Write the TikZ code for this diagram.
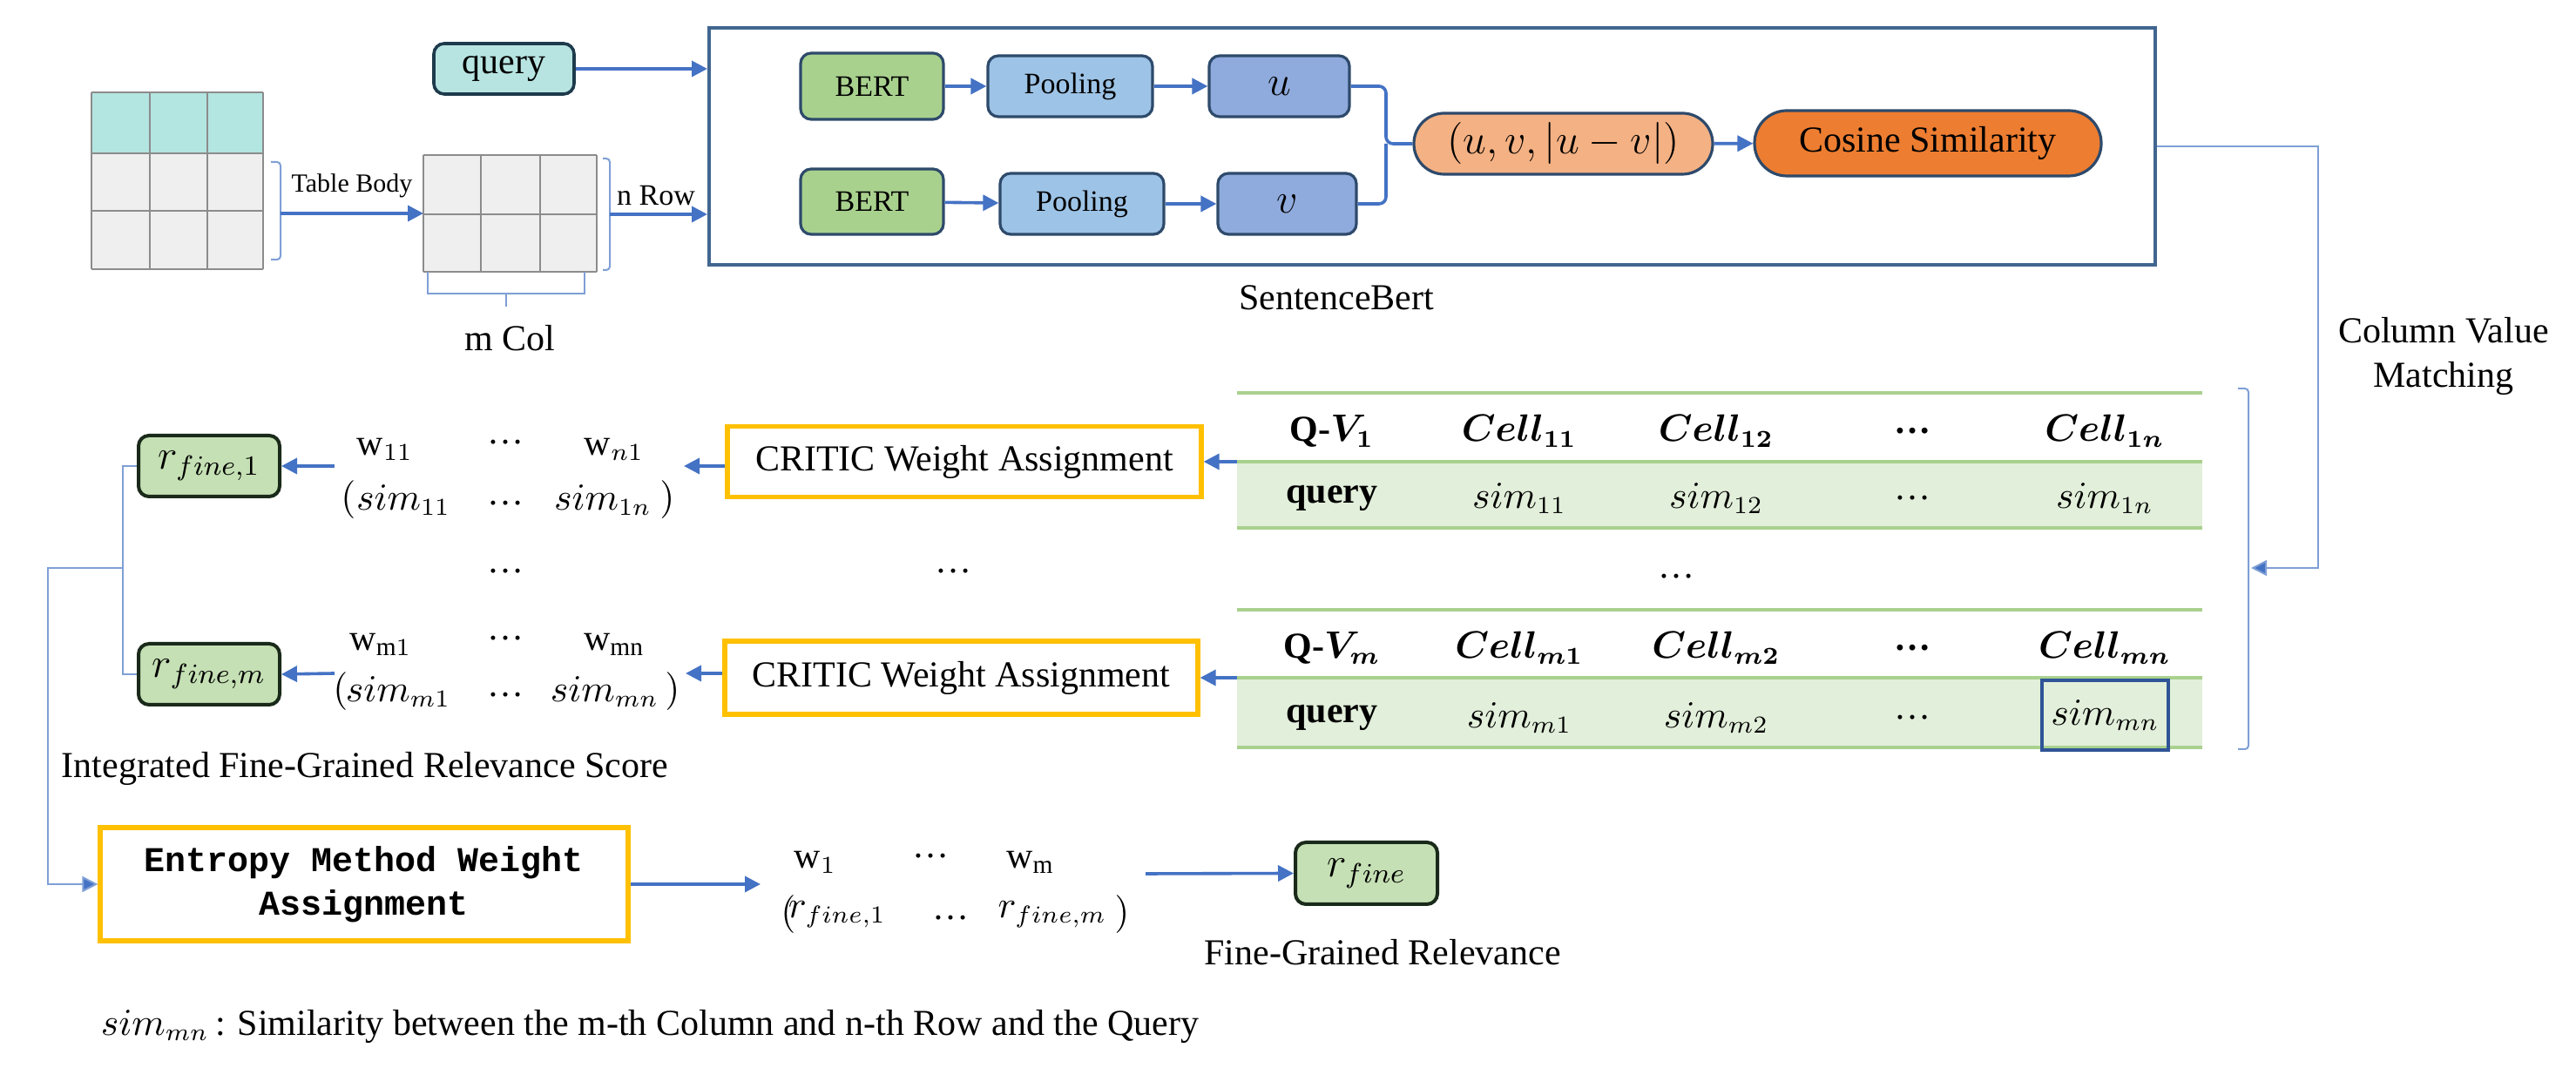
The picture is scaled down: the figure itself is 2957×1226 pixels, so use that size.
\documentclass[tikz,border=0pt]{standalone}
\usepackage{fontspec}
\setmainfont{Liberation Serif}
\newfontfamily\monofnt{Liberation Mono}
\usepackage{bm}
\usetikzlibrary{arrows.meta}
\definecolor{qfill}{HTML}{B7E4E1}
\definecolor{qborder}{HTML}{1E3A4C}
\definecolor{hdr}{HTML}{B3E5E1}
\definecolor{cellg}{HTML}{EFEFEF}
\definecolor{gridc}{HTML}{8C8C8C}
\definecolor{bertg}{HTML}{A9D18E}
\definecolor{poolb}{HTML}{9DC3E6}
\definecolor{uvb}{HTML}{8FAADC}
\definecolor{boxb}{HTML}{2E4A6B}
\definecolor{pilla}{HTML}{F4B183}
\definecolor{pillb}{HTML}{ED7D31}
\definecolor{sbblue}{HTML}{41658F}
\definecolor{arrblue}{HTML}{4472C4}
\definecolor{thinblue}{HTML}{7F9FD6}
\definecolor{gold}{HTML}{FFC000}
\definecolor{rgreen}{HTML}{C5E0B4}
\definecolor{rborder}{HTML}{1A2A1A}
\definecolor{tgreen}{HTML}{A9D18E}
\definecolor{tfill}{HTML}{E2EFDA}
\definecolor{simblue}{HTML}{2F5597}
\begin{document}
\begin{tikzpicture}[x=0.25pt,y=-0.25pt,
  font=\fontsize{10.5}{12.6}\selectfont,
  arr/.style={draw=arrblue, line width=0.9pt, -{Triangle[length=4.5pt,width=4.5pt]}},
  thinln/.style={draw=thinblue, line width=0.5pt},
  thinarr/.style={draw=thinblue, line width=0.5pt, -{Triangle[length=4.5pt,width=4.5pt,fill=arrblue]}},
  rbox/.style={draw=boxb, rounded corners=3pt, line width=0.8pt, inner sep=0pt, minimum height=17.5pt},
  goldbox/.style={draw=gold, line width=1.3pt, fill=white, inner sep=0pt},
  rfbox/.style={draw=rborder, fill=rgreen, rounded corners=3pt, line width=1pt, inner sep=0pt, minimum width=40.5pt, minimum height=17.5pt, font=\fontsize{12}{14}\selectfont},
  tline/.style={draw=tgreen, line width=1.2pt},
  txt/.style={inner sep=0pt}
]
\useasboundingbox (0,0) rectangle (2957,1226);

% ---------- left table ----------
\fill[hdr] (105,106) rectangle (302,176);
\fill[cellg] (105,176) rectangle (302,309);
\foreach \x in {105,172,238,302} \draw[gridc, line width=0.4pt] (\x,106) -- (\x,309);
\foreach \y in {106,176,242,309} \draw[gridc, line width=0.4pt] (105,\y) -- (302,\y);
\draw[thinln, rounded corners=1pt] (311,186) -- (322,186) -- (322,298) -- (311,298);
\coordinate (tb1) at (322,245);
\node[txt] (tbody) at (404,213) {\fontsize{7.5}{9}\selectfont Table Body};

% ---------- second table ----------
\fill[cellg] (486,178) rectangle (685,312);
\foreach \x in {486,552,620,685} \draw[gridc, line width=0.4pt] (\x,178) -- (\x,312);
\foreach \y in {178,246,312} \draw[gridc, line width=0.4pt] (486,\y) -- (685,\y);
\coordinate (t2w) at (486,245);
\draw[arr] (tb1) -- (t2w);
\draw[thinln, rounded corners=1pt] (692,182) -- (700,182) -- (700,310) -- (692,310);
\coordinate (b2) at (700,246);
\node[txt] (nrow) at (753,225) {\fontsize{8.5}{10}\selectfont n Row};
\draw[thinln] (491,312) -- (491,337) -- (671,337) -- (671,312);
\draw[thinln] (581,337) -- (581,352);
\node[txt] (mcol) at (585,388) {m Col};

% ---------- query ----------
\node[draw=qborder, fill=qfill, rounded corners=3pt, line width=0.9pt, minimum width=40.25pt, minimum height=14.5pt, inner sep=0pt] (query) at (578.5,79) {query};

% ---------- SentenceBert ----------
\node[draw=sbblue, line width=1pt, minimum width=415pt, minimum height=68pt, inner sep=0pt] (sb) at (1644,168) {};
\draw[arr] (query.east) -- (query.east -| sb.west);
\draw[arr] (b2) -- (b2 -| sb.west);

\node[rbox, fill=bertg, minimum width=41pt, minimum height=19pt, font=\fontsize{8.5}{10}\selectfont] (bert1) at (1001,99) {BERT};
\node[rbox, fill=poolb, minimum width=47.25pt, font=\fontsize{8.5}{10}\selectfont] (pool1) at (1228.5,99) {Pooling};
\node[rbox, fill=uvb, minimum width=40.25pt, font=\fontsize{13}{15}\selectfont] (u) at (1468.5,99) {$u$};
\node[rbox, fill=bertg, minimum width=41pt, minimum height=18.75pt, font=\fontsize{8.5}{10}\selectfont] (bert2) at (1001,231.5) {BERT};
\node[rbox, fill=poolb, minimum width=47pt, font=\fontsize{8.5}{10}\selectfont] (pool2) at (1242,234) {Pooling};
\node[rbox, fill=uvb, minimum width=39.75pt, font=\fontsize{13}{15}\selectfont] (v) at (1477.5,234) {$v$};
\draw[arr] (bert1) -- (pool1);
\draw[arr] (pool1) -- (u);
\draw[arr] (bert2) -- (pool2);
\draw[arr] (pool2) -- (v);

\node[draw=boxb, fill=pilla, rounded corners=8.7pt, line width=0.8pt, minimum width=85.75pt, minimum height=17.5pt, inner sep=0pt, font=\fontsize{12}{14}\selectfont] (cat) at (1794.5,165) {$(u,v,|u-v|)$};
\node[draw=boxb, fill=pillb, rounded corners=9.3pt, line width=0.8pt, minimum width=99.5pt, minimum height=18.75pt, inner sep=0pt] (cos) at (2213,164.5) {Cosine Similarity};
\draw[draw=arrblue, line width=0.9pt, rounded corners=2pt] (u.east) -- (1591,99) -- (1591,165) -- (cat.west);
\draw[draw=arrblue, line width=0.9pt, rounded corners=2pt] (v.east) -- (1591,234) -- (1591,165);
\draw[arr] (cat) -- (cos);
\node[txt] (sblabel) at (1534,342) {SentenceBert};

% ---------- column value matching ----------
\coordinate (rb) at (2584,652);
\draw[thinarr] (sb.east) -- (2661,168) -- (2661,652) -- (rb);
\node[txt, align=center] (cvm) at (2805,409) {Column Value\\Matching};
\draw[thinln, rounded corners=1pt] (2569,446) -- (2581,446) -- (2581,860) -- (2569,860);

% ---------- similarity tables ----------
\fill[tfill] (1420,530) rectangle (2528,606);
\draw[tline] (1420,451) -- (2528,451);
\draw[tline] (1420,530) -- (2528,530);
\draw[tline] (1420,606) -- (2528,606);
\node[txt] (qv1) at (1529,495) {\textbf{Q-}$\bm{V_1}$};
\node[txt] (c11) at (1744,495) {$\bm{Cell_{11}}$};
\node[txt] (c12) at (1970,495) {$\bm{Cell_{12}}$};
\node[txt] (cd1) at (2195,495) {\textbf{\ldots}};
\node[txt] (c1n) at (2416,495) {$\bm{Cell_{1n}}$};
\node[txt] (q1) at (1529,572) {\textbf{query}};
\node[txt] (s11t) at (1744,572) {$sim_{11}$};
\node[txt] (s12t) at (1970,572) {$sim_{12}$};
\node[txt] (sd1) at (2195,572) {\ldots};
\node[txt] (s1nt) at (2416,572) {$sim_{1n}$};

\node[txt] (tdots) at (1924,662) {\ldots};

\fill[tfill] (1420,778) rectangle (2528,858);
\draw[tline] (1420,700) -- (2528,700);
\draw[tline] (1420,778) -- (2528,778);
\draw[tline] (1420,858) -- (2528,858);
\node[txt] (qvm) at (1529,744) {\textbf{Q-}$\bm{V_m}$};
\node[txt] (cm1) at (1744,744) {$\bm{Cell_{m1}}$};
\node[txt] (cm2) at (1970,744) {$\bm{Cell_{m2}}$};
\node[txt] (cdm) at (2195,744) {\textbf{\ldots}};
\node[txt] (cmn) at (2416,744) {$\bm{Cell_{mn}}$};
\node[txt] (qm) at (1529,824) {\textbf{query}};
\node[txt] (sm1t) at (1744,824) {$sim_{m1}$};
\node[txt] (sm2t) at (1970,824) {$sim_{m2}$};
\node[txt] (sdm) at (2195,824) {\ldots};
\node[draw=simblue, line width=0.9pt, minimum width=36.25pt, minimum height=20pt, inner sep=0pt] (smn) at (2416.5,821) {$sim_{mn}$};

\coordinate (t1w) at (1420,530);
\coordinate (t2wl) at (1420,778);

% ---------- CRITIC ----------
\node[goldbox, minimum width=136pt, minimum height=20.25pt] (cr1) at (1107,530) {CRITIC Weight Assignment};
\node[goldbox, minimum width=135.75pt, minimum height=21pt] (cr2) at (1103.5,778) {CRITIC Weight Assignment};
\draw[arr] (t1w) -- (cr1.east);
\draw[arr] (t2wl) -- (cr2.east);

% weights row 1
\node[txt] (w11) at (442,516) {w$_{11}$};
\node[txt] (wd1) at (580,508) {\ldots};
\node[txt] (wn1) at (705,516) {w$_{n1}$};
\node[txt] (pl1) at (400,574) {$($};
\node[txt] (ss11) at (463,574) {$sim_{11}$};
\node[txt] (sdd1) at (580,578) {\ldots};
\node[txt] (ss1n) at (692,574) {$sim_{1n}$};
\node[txt] (pr1) at (766,574) {$)$};
\coordinate (w1e) at (785,535);
\coordinate (w1w) at (384,535);
\draw[arr] (cr1.west |- w1e) -- (w1e);

% weights row m
\node[txt] (wm1) at (437,740) {w$_{\mathrm{m}1}$};
\node[txt] (wdm) at (580,733) {\ldots};
\node[txt] (wmn) at (705,740) {w$_{\mathrm{mn}}$};
\node[txt] (plm) at (391,794) {$($};
\node[txt] (ssm1) at (457,794) {$sim_{m1}$};
\node[txt] (sddm) at (580,798) {\ldots};
\node[txt] (ssmn) at (694,794) {$sim_{mn}$};
\node[txt] (prm) at (772,794) {$)$};
\coordinate (wme) at (787,773);
\coordinate (wmw) at (384,773);
\draw[arr] (cr2.west |- wme) -- (wme);

\node[txt] (mdots1) at (580,656) {\ldots};
\node[txt] (mdots2) at (1094,656) {\ldots};

% r_fine boxes
\node[rfbox] (r1) at (240,535) {$r_{fine,1}$};
\node[rfbox] (rm) at (240,774) {$r_{fine,m}$};
\draw[arr] (w1w) -- (r1.east);
\draw[arr] (wmw) -- (rm.east);

\draw[thinln] (r1.west) -- (141,535) -- (141,774) -- (rm.west);
\node[txt, anchor=west] (integ) at (70,882) {Integrated Fine-Grained Relevance Score};

% ---------- Entropy ----------
\node[goldbox, minimum width=151.5pt, minimum height=32.5pt, align=center, font=\monofnt\bfseries\fontsize{10}{12.5}\selectfont] (ent) at (418,1015) {Entropy Method Weight\\Assignment};
\draw[thinarr] (141,652) -- (55,652) -- (55,1015) -- (ent.west);
\coordinate (w3e) at (873,1015);
\draw[arr] (ent.east) -- (w3e);

\node[txt] (w1x) at (936,990) {w$_1$};
\node[txt] (wdx) at (1068,983) {\ldots};
\node[txt] (wmx) at (1183,990) {w$_{\mathrm{m}}$};
\node[txt] (plx) at (905,1050) {$($};
\node[txt] (rf1x) at (961,1050) {$r_{fine,1}$};
\node[txt] (rdx) at (1091,1054) {\ldots};
\node[txt] (rfmx) at (1208,1050) {$r_{fine,m}$};
\node[txt] (prx) at (1288,1050) {$)$};

\node[rfbox, minimum width=40.75pt, minimum height=17.75pt] (rf) at (1568.5,1002.5) {$r_{fine}$};
\coordinate (w3o) at (1315,1003);
\draw[arr] (w3o) -- (rf.west);
\node[txt] (fgr) at (1587,1093) {Fine-Grained Relevance};

\node[txt, anchor=west] (note) at (115,1178) {$sim_{mn}$\,: Similarity between the m-th Column and n-th Row and the Query};
\end{tikzpicture}
\end{document}
